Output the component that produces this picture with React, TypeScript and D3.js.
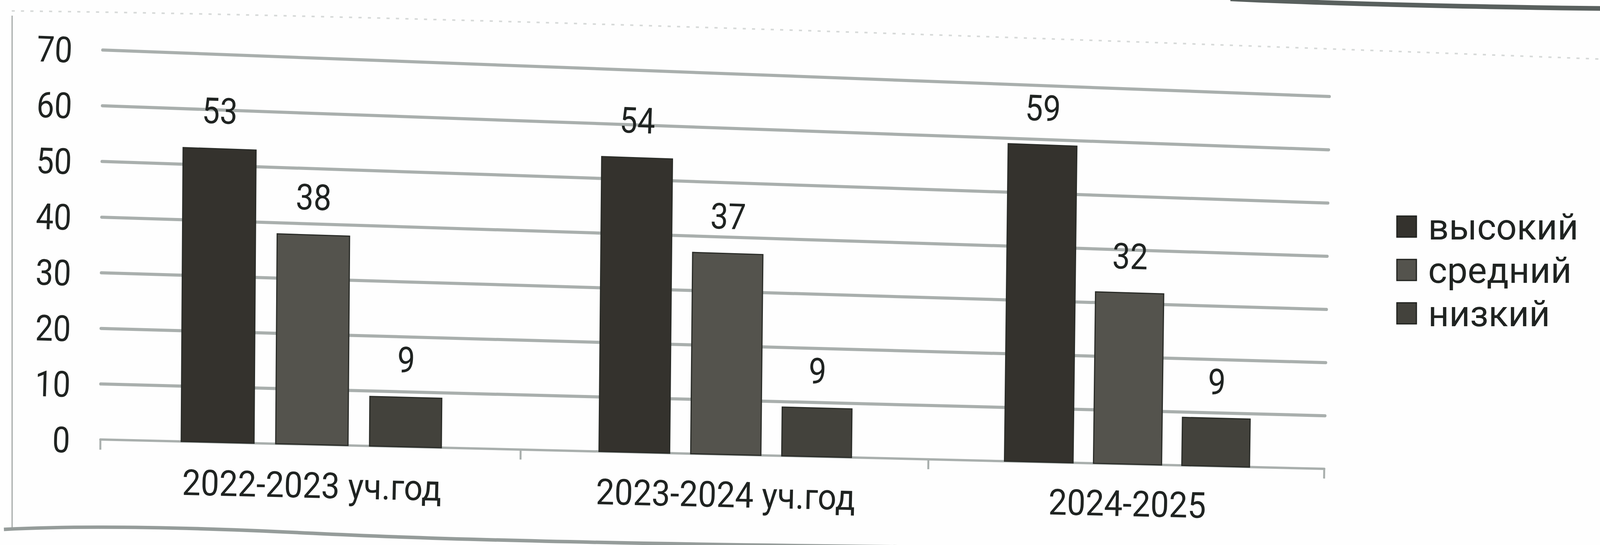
import React from "react";
import * as d3 from "d3";

// ---------- data ----------
const categories = ["2022-2023 уч.год", "2023-2024 уч.год", "2024-2025"];
const seriesNames = ["высокий", "средний", "низкий"];
const vysokiy = [53, 54, 59];
const sredniy = [38, 37, 32];
const nizkiy = [9, 9, 9];
const seriesValues = [vysokiy, sredniy, nizkiy];
const yTicks = [0, 10, 20, 30, 40, 50, 60, 70];
const seriesColors = ["#34322d", "#54534d", "#43423c"];

// ---------- layout ----------
const W = 4117;
const H = 1395;
const X0 = 260;
const X1 = 3398;
const YTOP = 130;
const YBOT = 1125;
const FONT = "Roboto, 'Open Sans', sans-serif";
const TEXT = "#1f2321";
const GRID = "#a9afad";

// photo perspective: flat plot corners -> photographed corners
const SRC: [number, number][] = [
  [X0, YTOP],
  [X1, YTOP],
  [X1, YBOT],
  [X0, YBOT],
];
const DST: [number, number][] = [
  [263, 128],
  [3403, 247],
  [3390, 1200],
  [257, 1125],
];

function solve(A: number[][], b: number[]): number[] {
  const n = b.length;
  const M = A.map((r, i) => [...r, b[i]]);
  for (let c = 0; c < n; c++) {
    let p = c;
    for (let r = c + 1; r < n; r++) if (Math.abs(M[r][c]) > Math.abs(M[p][c])) p = r;
    [M[c], M[p]] = [M[p], M[c]];
    for (let r = 0; r < n; r++) {
      if (r === c) continue;
      const f = M[r][c] / M[c][c];
      for (let k = c; k <= n; k++) M[r][k] -= f * M[c][k];
    }
  }
  return M.map((r, i) => r[n] / r[i]);
}

function homography(src: [number, number][], dst: [number, number][]) {
  const A: number[][] = [];
  const b: number[] = [];
  for (let i = 0; i < 4; i++) {
    const [u, v] = src[i];
    const [x, y] = dst[i];
    A.push([u, v, 1, 0, 0, 0, -u * x, -v * x]);
    b.push(x);
    A.push([0, 0, 0, u, v, 1, -u * y, -v * y]);
    b.push(y);
  }
  const [a, bb, c, d, e, f, g, h] = solve(A, b);
  return (u: number, v: number): [number, number] => {
    const w = g * u + h * v + 1;
    return [(a * u + bb * v + c) / w, (d * u + e * v + f) / w];
  };
}

const warp = homography(SRC, DST);
const angleAt = (u: number, v: number) => {
  const [x1, y1] = warp(u, v);
  const [x2, y2] = warp(u + 20, v);
  return (Math.atan2(y2 - y1, x2 - x1) * 180) / Math.PI;
};
const pt = (p: [number, number]) => `${p[0].toFixed(1)},${p[1].toFixed(1)}`;

const xScale = d3.scaleBand<string>().domain(categories).range([X0, X1]).padding(0);
const bw = xScale.bandwidth();
const inner = d3
  .scaleBand<string>()
  .domain(seriesNames)
  .range([0.19 * bw, 0.809 * bw])
  .paddingInner(0.23)
  .paddingOuter(0);
const yScale = d3.scaleLinear().domain([0, 70]).range([YBOT, YTOP]);

function WText({
  u,
  v,
  text,
  size,
  anchor = "middle",
  sx = 0.9,
}: {
  u: number;
  v: number;
  text: string;
  size: number;
  anchor?: string;
  sx?: number;
}) {
  const [x, y] = warp(u, v);
  const a = angleAt(u, v);
  return (
    <text
      transform={`translate(${x.toFixed(1)},${y.toFixed(1)}) rotate(${a.toFixed(2)}) scale(${sx},1)`}
      textAnchor={anchor}
      dy="0.36em"
      fontFamily={FONT}
      fontSize={size}
      fill={TEXT}
    >
      {text}
    </text>
  );
}

export default function App() {
  const boundaries = [X0, ...categories.map((c) => (xScale(c) as number) + bw)];
  return (
    <svg
      width={W}
      height={H}
      viewBox={`0 0 ${W} ${H}`}
      style={{ position: "absolute", left: 0, top: 0, display: "block", background: "#ffffff" }}
    >
      <rect x={0} y={0} width={W} height={H} fill="#fefefe" />
      {/* photographed outer frame */}
      <path d="M31,40 L31,1352" stroke="#a3a8a6" strokeWidth={3} fill="none" />
      <path d="M30,28 Q1200,40 4117,152" stroke="#d6d9d8" strokeWidth={4} strokeDasharray="8 16" fill="none" />
      <path d="M10,1355 Q300,1340 800,1365 T2350,1400" stroke="#959c9a" strokeWidth={9} fill="none" />
      <path d="M3150,-3 Q3500,14 4117,22" stroke="#59605e" strokeWidth={12} fill="none" />

      {/* gridlines */}
      <g>
        {yTicks.map((t) => {
          const a = warp(X0, yScale(t));
          const b = warp(X1, yScale(t));
          return (
            <line
              key={t}
              x1={a[0]}
              y1={a[1]}
              x2={b[0]}
              y2={b[1]}
              stroke={GRID}
              strokeWidth={t === 0 ? 6 : 8}
              strokeLinecap="round"
            />
          );
        })}
        {boundaries.map((u, i) => {
          const a = warp(u, YBOT);
          const b = warp(u, YBOT + 26);
          return <line key={i} x1={a[0]} y1={a[1]} x2={b[0]} y2={b[1]} stroke={GRID} strokeWidth={5} />;
        })}
      </g>

      {/* y tick labels */}
      <g>
        {yTicks.map((t) => (
          <WText key={t} u={186} v={yScale(t) + 2} text={String(t)} size={92} anchor="end" sx={0.88} />
        ))}
      </g>

      {/* bars */}
      <g>
        {categories.map((c, ci) =>
          seriesNames.map((s, si) => {
            const l = (xScale(c) as number) + (inner(s) as number);
            const r = l + inner.bandwidth();
            const top = yScale(seriesValues[si][ci]);
            const d = `M${pt(warp(l, top))}L${pt(warp(r, top))}L${pt(warp(r, YBOT))}L${pt(warp(l, YBOT))}Z`;
            return <path key={`${c}-${s}`} d={d} fill={seriesColors[si]} stroke="#2a2c28" strokeWidth={3} />;
          })
        )}
      </g>

      {/* data labels */}
      <g>
        {categories.map((c, ci) =>
          seriesNames.map((s, si) => {
            const cx = (xScale(c) as number) + (inner(s) as number) + inner.bandwidth() / 2;
            const v = seriesValues[si][ci];
            return <WText key={`${c}-${s}-l`} u={cx} v={yScale(v) - 98} text={String(v)} size={92} sx={0.88} />;
          })
        )}
      </g>

      {/* category labels */}
      <g>
        {categories.map((c) => (
          <WText key={c} u={(xScale(c) as number) + bw / 2} v={YBOT + 104} text={c} size={92} sx={0.92} />
        ))}
      </g>

      {/* legend */}
      <g>
        {seriesNames.map((s, i) => (
          <g key={s} transform={`translate(3576,${553 + i * 111})`}>
            <rect x={0} y={0} width={50} height={54} fill={seriesColors[i]} stroke="#1e201d" strokeWidth={3} />
            <text x={80} y={27} dy="0.36em" fontFamily={FONT} fontSize={93} fill={TEXT}>
              {s}
            </text>
          </g>
        ))}
      </g>
    </svg>
  );
}
